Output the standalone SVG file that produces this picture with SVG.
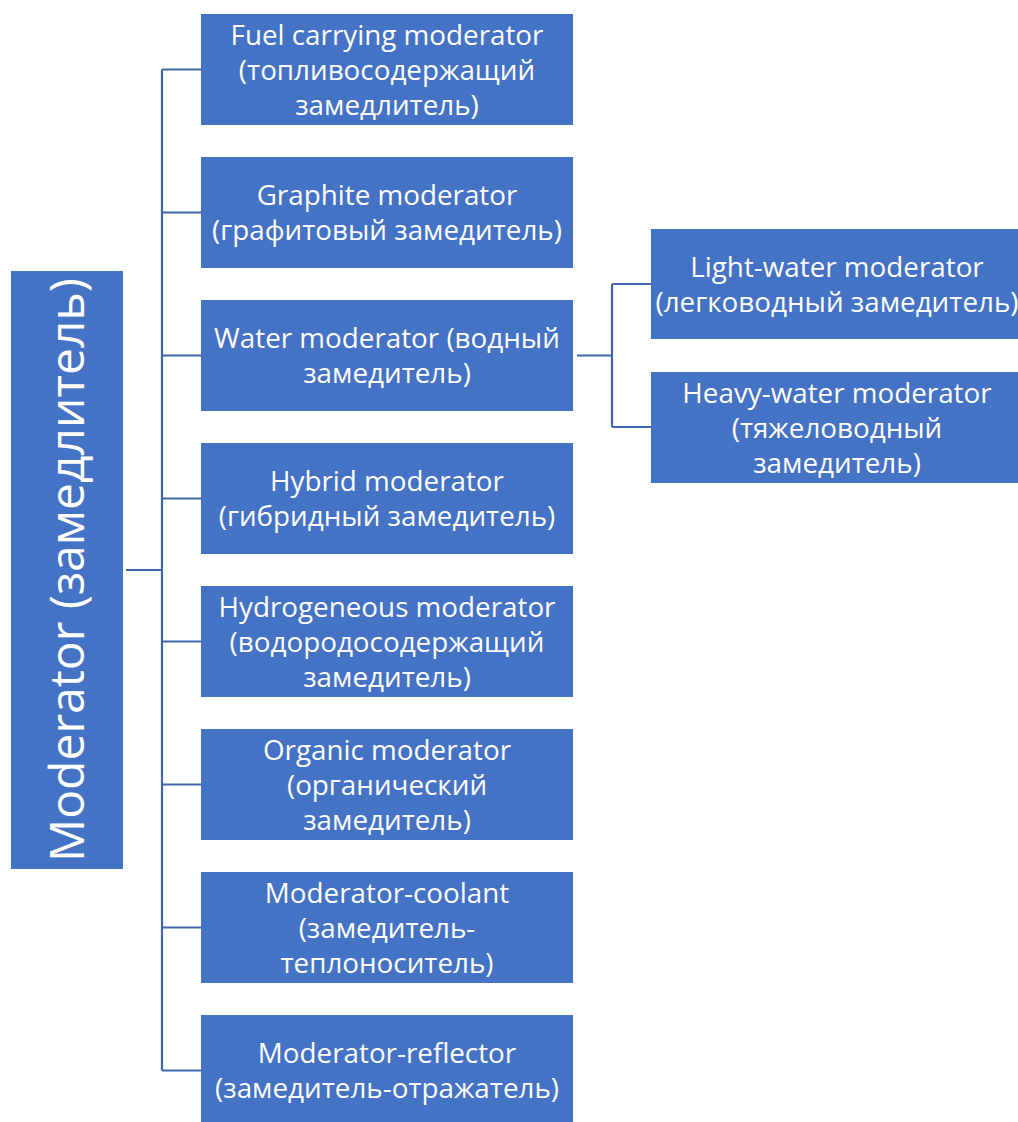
<svg xmlns="http://www.w3.org/2000/svg" width="1018" height="1122" viewBox="0 0 1018 1122">
  <style>
    .box { fill: #4472C4; }
    .lbl { fill: #FFFFFF; font-family: "Open Sans", "Liberation Sans", sans-serif; font-size: 27.8px; text-anchor: middle; }
    .root { fill: #FFFFFF; font-family: "Open Sans", "Liberation Sans", sans-serif; font-size: 48px; text-anchor: middle; }
    .wire { fill: none; stroke: #3F65AD; stroke-width: 2.2; }
  </style>
  <rect width="1018" height="1122" fill="#FFFFFF"/>

  <!-- connectors -->
  <g id="connectors">
    <path class="wire" d="M126 570 H162"/>
    <path class="wire" d="M162 69.5 V1070.5"/>
    <path class="wire" d="M162 69.5 H201 M162 212.5 H201 M162 355.5 H201 M162 498.5 H201 M162 641.5 H201 M162 784.5 H201 M162 927.5 H201 M162 1070.5 H201"/>
    <path class="wire" d="M577 355.5 H612 M612 284 V427 M612 284 H651 M612 427 H651"/>
  </g>

  <!-- root -->
  <g id="root">
    <rect class="box" x="11" y="271" width="112" height="598"/>
    <text class="root" transform="translate(84 570) rotate(-90)">Moderator (замедлитель)</text>
  </g>

  <g id="fuel-carrying">
    <rect class="box" x="201" y="14" width="372" height="111"/>
    <text class="lbl" x="387" y="45">Fuel carrying moderator</text>
    <text class="lbl" x="387" y="80">(топливосодержащий</text>
    <text class="lbl" x="387" y="115">замедлитель)</text>
  </g>

  <g id="graphite">
    <rect class="box" x="201" y="157" width="372" height="111"/>
    <text class="lbl" x="387" y="205">Graphite moderator</text>
    <text class="lbl" x="387" y="240">(графитовый замедитель)</text>
  </g>

  <g id="water">
    <rect class="box" x="201" y="300" width="372" height="111"/>
    <text class="lbl" x="387" y="348">Water moderator (водный</text>
    <text class="lbl" x="387" y="383">замедитель)</text>
  </g>

  <g id="hybrid">
    <rect class="box" x="201" y="443" width="372" height="111"/>
    <text class="lbl" x="387" y="491">Hybrid moderator</text>
    <text class="lbl" x="387" y="526">(гибридный замедитель)</text>
  </g>

  <g id="hydrogeneous">
    <rect class="box" x="201" y="586" width="372" height="111"/>
    <text class="lbl" x="387" y="617">Hydrogeneous moderator</text>
    <text class="lbl" x="387" y="652">(водородосодержащий</text>
    <text class="lbl" x="387" y="687">замедитель)</text>
  </g>

  <g id="organic">
    <rect class="box" x="201" y="729" width="372" height="111"/>
    <text class="lbl" x="387" y="760">Organic moderator</text>
    <text class="lbl" x="387" y="795">(органический</text>
    <text class="lbl" x="387" y="830">замедитель)</text>
  </g>

  <g id="moderator-coolant">
    <rect class="box" x="201" y="872" width="372" height="111"/>
    <text class="lbl" x="387" y="903">Moderator-coolant</text>
    <text class="lbl" x="387" y="938">(замедитель-</text>
    <text class="lbl" x="387" y="973">теплоноситель)</text>
  </g>

  <g id="moderator-reflector">
    <rect class="box" x="201" y="1015" width="372" height="111"/>
    <text class="lbl" x="387" y="1063">Moderator-reflector</text>
    <text class="lbl" x="387" y="1098">(замедитель-отражатель)</text>
  </g>

  <g id="light-water">
    <rect class="box" x="651" y="229" width="374" height="110"/>
    <text class="lbl" x="837" y="277">Light-water moderator</text>
    <text class="lbl" x="837" y="312">(легководный замедитель)</text>
  </g>

  <g id="heavy-water">
    <rect class="box" x="651" y="372" width="374" height="111"/>
    <text class="lbl" x="837" y="403">Heavy-water moderator</text>
    <text class="lbl" x="837" y="438">(тяжеловодный</text>
    <text class="lbl" x="837" y="473">замедитель)</text>
  </g>
</svg>
